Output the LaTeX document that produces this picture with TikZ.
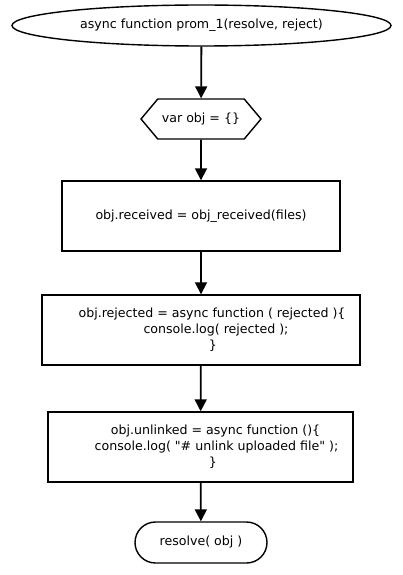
\documentclass[tikz,border=0pt]{standalone}
\usepackage{fontspec}
\setmainfont{DejaVu Sans}
\usetikzlibrary{positioning,arrows.meta,shapes.geometric,shapes.misc,shapes.symbols}

\begin{document}
\begin{tikzpicture}[x=1pt, y=-1pt,
  base/.style={draw, line width=1.4pt, align=center, font=\fontsize{12.6}{16}\selectfont, inner sep=2pt},
  term/.style={base, ellipse, minimum width=379pt, minimum height=41pt},
  prep/.style={base, signal, signal to=west and east, signal pointer angle=100, minimum width=120pt, minimum height=40pt},
  proc/.style={base, rectangle, minimum height=70pt},
  stop/.style={base, rounded rectangle, minimum width=136pt, minimum height=41pt},
  arr/.style={-{Triangle[length=12pt, width=12pt]}, line width=1.8pt},
]
  \useasboundingbox (0,0) rectangle (403,575);

  \node[term]                         (start)    at (201.5,25.5) {async function prom\_1(resolve, reject)};
  \node[prep]                         (init)     at (201,119)    {var obj = \{\}};
  \node[proc, minimum width=278pt]    (received) at (201,216)    {obj.received = obj\_received(files)};
  \node[proc, minimum width=318pt]    (rejected) at (201,330)    {\hspace*{22pt}obj.rejected = async function ( rejected )\{\\
                                                                   \hspace*{30pt}console.log( rejected );\\
                                                                   \hspace*{24pt}\}};
  \node[proc, minimum width=305pt]    (unlinked) at (200.5,447)  {\hspace*{30pt}obj.unlinked = async function ()\{\\
                                                                   \hspace*{32pt}console.log( \textquotedbl\# unlink uploaded file\textquotedbl{} );\\
                                                                   \hspace*{25pt}\}};
  \node[stop]                         (resolve)  at (201,542.5)  {resolve( obj )};

  \draw[arr] (start) -- (init);
  \draw[arr] (init) -- (received);
  \draw[arr] (received) -- (rejected);
  \draw[arr] (rejected) -- (unlinked);
  \draw[arr] (unlinked) -- (resolve);
\end{tikzpicture}
\end{document}
